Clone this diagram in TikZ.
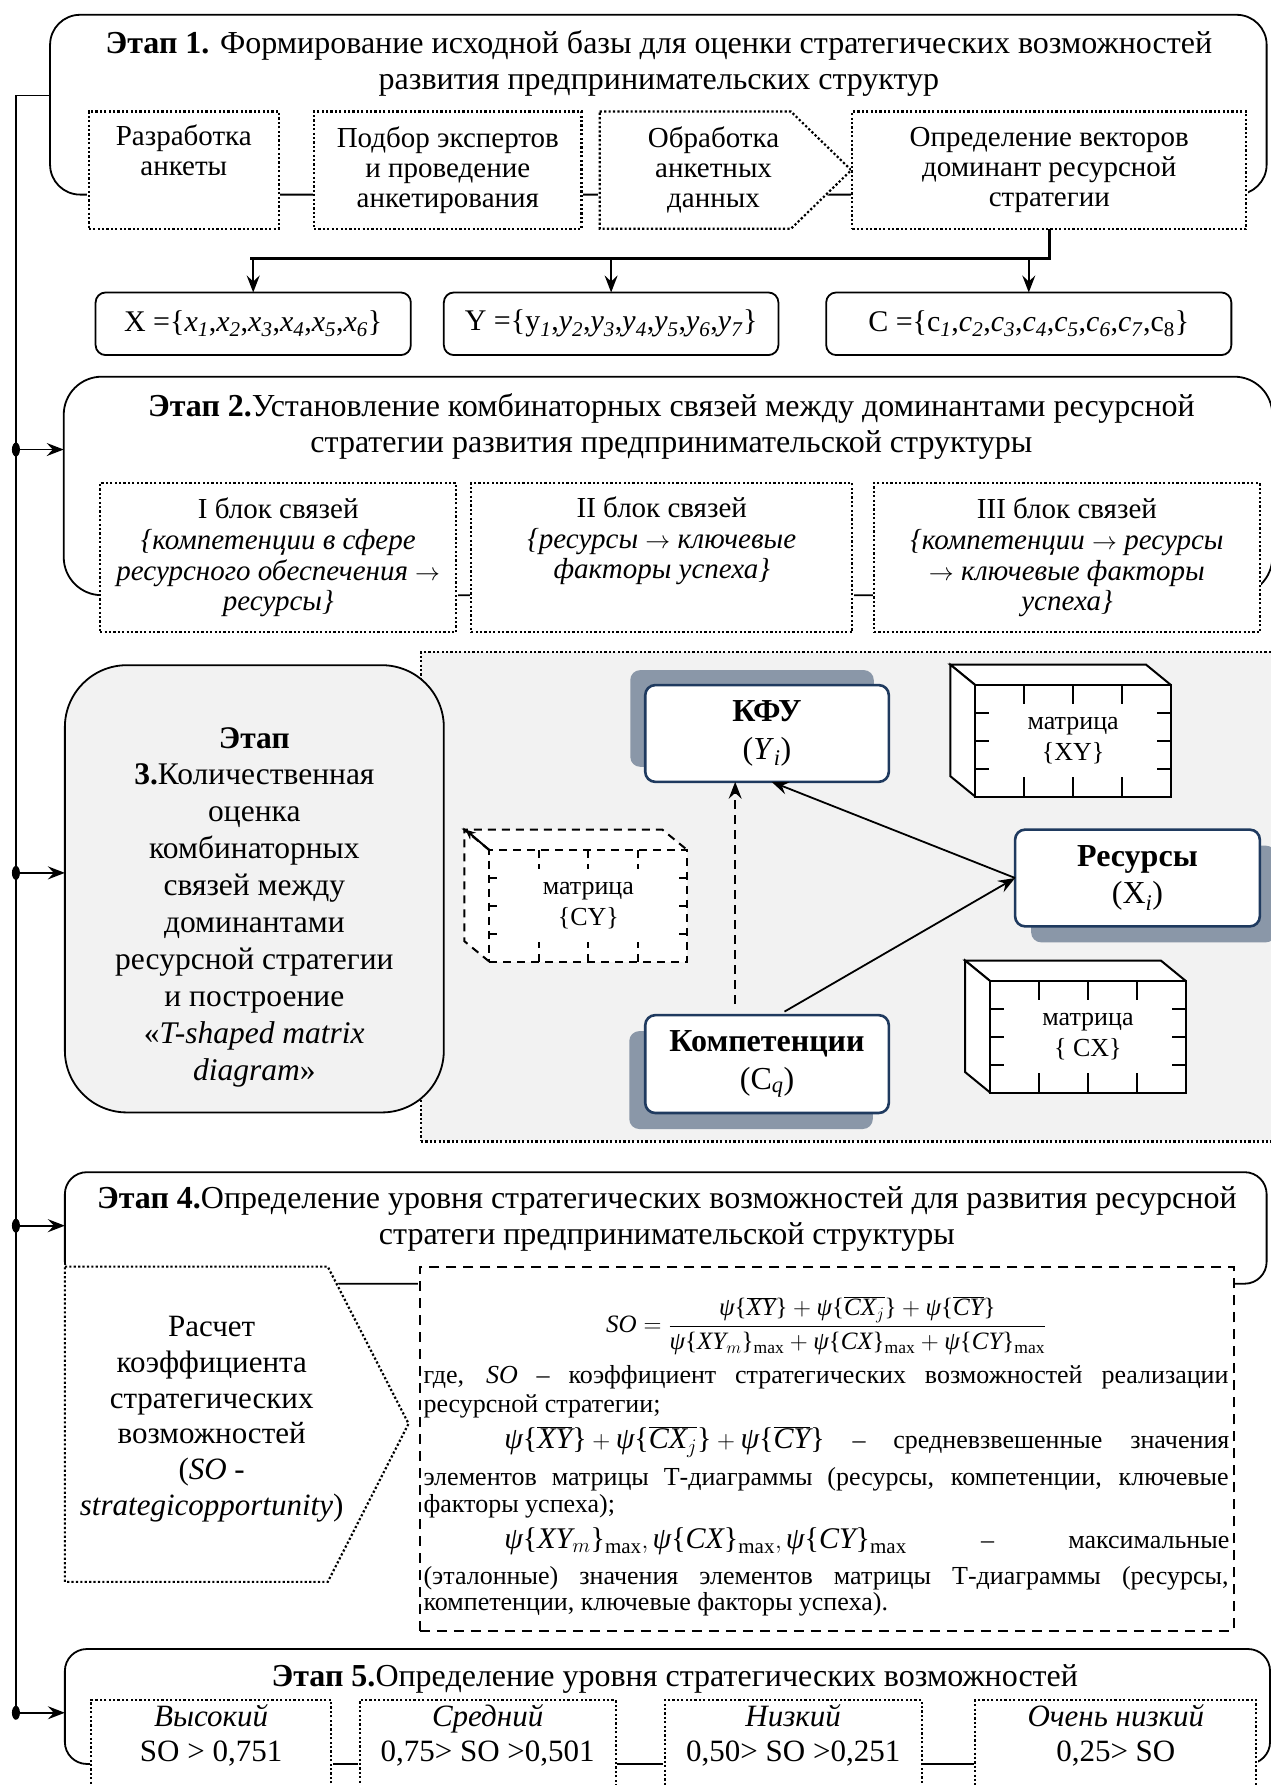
\documentclass[tikz,border=0pt]{standalone}
\usepackage{fontspec}
\setmainfont{Liberation Serif}
\usetikzlibrary{arrows.meta,calc,shadows}
\definecolor{navy}{HTML}{1F3A5F}
\definecolor{shadowc}{HTML}{8A97A8}
\definecolor{paleg}{HTML}{F2F2F2}
\newcommand\sub[1]{\textsubscript{\textit{#1}}}
\newcommand\ps{\mbox{\itshape ψ}}
\newcommand\br[1]{\mbox{\{}#1\mbox{\}}}
\newcommand\ib[1]{\mbox{\itshape #1}}
\newcommand\ra{$\rightarrow$}
\tikzset{
  ln/.style={line width=1.6pt},
  sz/.style 2 args={minimum width={#1*1.138pt}, minimum height={#2*1.138pt}, inner sep=0pt, outer sep=0pt},
  stagebox/.style={draw, line width=1.8pt, rounded corners=#1},
  stagebox/.default=30pt,
  dotbox/.style={draw, fill=white, line width=2.2pt, dash pattern=on 2.2pt off 2.2pt,
    preaction={draw=white, solid, line width=3pt}},
  dashbox/.style={draw, fill=white, line width=2pt, dash pattern=on 10pt off 7pt,
    preaction={draw=white, solid, line width=3pt}},
  setbox/.style={draw, fill=white, line width=1.8pt, rounded corners=10pt, align=center,
    font={\fontsize{30}{34}\selectfont}},
  ttl/.style={align=center, font={\fontsize{32}{36.4}\selectfont}, inner sep=0pt},
  bxt/.style={align=center, font={\fontsize{29}{30.2}\selectfont}},
  blk/.style={align=center, font={\fontsize{29}{30.7}\selectfont}},
  tnode/.style={draw=navy, line width=2.6pt, fill=white, rounded corners=10pt, align=center,
    font={\fontsize{32}{37.5}\selectfont}},
  arr/.style={line width=1.8pt, -{Stealth[length=17pt,width=13pt,inset=6pt]}},
  mtick/.style={line width=2pt},
  dtx/.style={inner sep=0pt, font={\fontsize{26}{27}\selectfont}},
  s5t/.style={align=center, font={\fontsize{31}{35.3}\selectfont}},
}
% 3D matrix block: name, centre x, centre y, width, height, line style, label
\newcommand\cube[7]{%
  \begin{scope}[line width=2pt, #6]
    \draw[fill=white] ({#2-#4/2},{#3-#5/2}) -- ++(-22,-18) -- ++(#4,0) -- ({#2+#4/2},{#3-#5/2});
    \draw[fill=white] ({#2-#4/2},{#3-#5/2}) -- ++(-22,-18) -- ++(0,#5) -- ({#2-#4/2},{#3+#5/2});
    \node[draw, fill=white, sz={#4}{#5}, align=center, font={\fontsize{26}{31}\selectfont}] (#1) at (#2,#3) {#7};
    \foreach \f in {0.25,0.5,0.75}{
      \draw[mtick] ($(#1.north west)!\f!(#1.north east)$) -- ++(0,17);
      \draw[mtick] ($(#1.south west)!\f!(#1.south east)$) -- ++(0,-17);
      \draw[mtick] ($(#1.north west)!\f!(#1.south west)$) -- ++(12,0);
      \draw[mtick] ($(#1.north east)!\f!(#1.south east)$) -- ++(-12,0);
    }
  \end{scope}}
\begin{document}
\begin{tikzpicture}[x=1.138pt,y=-1.138pt]
\useasboundingbox (0,0) rectangle (1116,1568.5);

% ---------- Stage 1 ----------
\node[stagebox=30pt, sz={1069}{158}] (s1) at (578.5,92) {};
\node[ttl] (t1) at (579,56) {\textbf{Этап 1.} Формирование исходной базы для оценки стратегических возможностей\\развития предпринимательских структур};
\node[dotbox, sz={167}{103}, bxt] (b1) at (161.5,149.5) {Разработка\\анкеты\\\strut};
\node[dotbox, sz={235}{103}, bxt] (b2) at (393.5,149.5) {Подбор экспертов\\и проведение\\анкетирования};
\draw[dotbox] (527,98) -- (695,98) -- (748,149.5) -- (695,201) -- (527,201) -- cycle;
\node[bxt] (b3) at (627,149.5) {Обработка\\анкетных\\данных};
\node[dotbox, sz={346}{103}, bxt] (b4) at (922,149.5) {Определение векторов\\доминант ресурсной\\стратегии};

\node[setbox, sz={277}{55}] (xs) at (222.5,284.5) {X =\{\textit{x}\sub{1},\textit{x}\sub{2},\textit{x}\sub{3},\textit{x}\sub{4},\textit{x}\sub{5},\textit{x}\sub{6}\}};
\node[setbox, sz={294}{55}] (ys) at (537,284.5) {Y =\{y\sub{1},\textit{y}\sub{2},\textit{y}\sub{3},\textit{y}\sub{4},\textit{y}\sub{5},\textit{y}\sub{6},\textit{y}\sub{7}\}};
\node[setbox, sz={356}{55}] (cs) at (904,284.5) {C =\{c\sub{1},\textit{c}\sub{2},\textit{c}\sub{3},\textit{c}\sub{4},\textit{c}\sub{5},\textit{c}\sub{6},\textit{c}\sub{7},c\textsubscript{8}\}};

\coordinate (busy) at (0,227);
\draw[line width=2.8pt] (b4.south) -- (b4.south |- busy) -- ($(xs.north |- busy)+(-3,0)$);
\foreach \t in {xs,ys,cs} \draw[arr] (\t.north |- busy) -- (\t.north);

% ---------- Stage 2 ----------
\node[stagebox=38pt, sz={1062}{192}] (s2) at (587,427) {};
\node[ttl] (t2) at (590,375) {\textbf{Этап 2.}Установление комбинаторных связей между доминантами ресурсной\\стратегии развития предпринимательской структуры};
\node[dotbox, sz={313}{131}, blk] (k1) at (244.5,490) {I блок связей\\\textit{\{компетенции в сфере}\\\textit{ресурсного обеспечения \ra}\\\textit{ресурсы\}}};
\node[dotbox, sz={335}{131}, blk] (k2) at (581.5,490) {II блок связей\\\textit{\{ресурсы \ra{} ключевые}\\\textit{факторы успеха\}}\\\strut};
\node[dotbox, sz={339}{131}, blk] (k3) at (937.5,490) {III блок связей\\\textit{\{компетенции \ra{} ресурсы}\\\textit{\ra{} ключевые факторы}\\\textit{успеха\}}};

% ---------- Stage 3 ----------
\node[draw, fill=paleg, line width=2.2pt, dash pattern=on 2.2pt off 2.2pt, sz={750}{430}] (g3) at (745,788) {};
\node[draw, fill=paleg, line width=1.8pt, rounded corners=62pt, sz={333}{393}] (s3) at (223.5,781) {};
\node[align=center, font={\fontsize{31.5}{36.9}\selectfont}, inner sep=0pt] (s3t) at (223.5,797)
  {\textbf{Этап}\\\textbf{3.}Количественная\\оценка\\комбинаторных\\связей между\\доминантами\\ресурсной стратегии\\и построение\\«\textit{T-shaped matrix}\\\textit{diagram}»};

\cube{xy}{943}{651}{172}{98}{solid}{матрица\\\{XY\}}
\cube{cx}{956}{911}{172}{98}{solid}{матрица\\\{ CX\}}
\cube{cy}{517}{796}{174}{98}{dash pattern=on 8pt off 6pt}{матрица\\\{CY\}}
\draw[line width=2pt, -{Stealth[length=10pt,width=9pt]}] (cy.north west) -- ++(-21,-18);

\node[tnode, sz={214}{85}, general shadow={fill=shadowc, shadow xshift=-15pt, shadow yshift=15pt}] (kfu) at (674,644.5) {\textbf{КФУ}\\(\textit{Y}\sub{i})};
\node[tnode, sz={215}{85}, general shadow={fill=shadowc, shadow xshift=16pt, shadow yshift=-16pt}] (res) at (999.5,771.5) {\textbf{Ресурсы}\\(X\sub{i})};
\node[tnode, sz={214}{86}, general shadow={fill=shadowc, shadow xshift=-16pt, shadow yshift=-16pt}] (komp) at (674,935) {\textbf{Компетенции}\\(C\sub{q})};

\coordinate (dx) at (646,0);
\draw[arr, dashed, dash pattern=on 9pt off 6pt, shorten <=11pt] (komp.north -| dx) -- (kfu.south -| dx);
\draw[arr] (res.west) -- ($(kfu.south)+(4,0)$);
\draw[arr, shorten <=7pt] ($(komp.north)+(10,0)$) -- (res.west);

% ---------- Stage 4 ----------
\node[stagebox=22pt, sz={1056}{98}] (s4) at (585,1079) {};
\node[ttl] (t4) at (586,1071) {\textbf{Этап 4.}Определение уровня стратегических возможностей для развития ресурсной\\стратеги предпринимательской структуры};
\draw[dotbox] (57,1113) -- (288,1113) -- (359,1251) -- (288,1390) -- (57,1390) -- cycle;
\node[align=center, font={\fontsize{31}{35.7}\selectfont}, inner sep=0pt] (p4) at (186,1247)
  {Расчет\\коэффициента\\стратегических\\возможностей\\(\textit{SO} -\\\textit{strategicopportunity})};
\node[dashbox, sz={715}{320}] (d4) at (726.5,1273) {};

\node[dtx, font={\fontsize{25}{28}\selectfont}] (frm) at (726,1165)
  {$\displaystyle \mbox{\itshape SO}=\frac{\ps\br{\overline{\ib{XY}}}+\ps\br{\overline{\ib{CX}_{j}}}+\ps\br{\overline{\ib{CY}}}}{\ps\br{\ib{XY}_{m}}_{\mathrm{max}}+\ps\br{\ib{CX}}_{\mathrm{max}}+\ps\br{\ib{CY}}_{\mathrm{max}}}$};
\node[dtx, anchor=base west] (l1) at (372,1216) {\makebox[805pt][s]{где, \textit{SO} – коэффициент стратегических возможностей реализации}};
\node[dtx, anchor=base west] (l2) at (372,1241) {ресурсной стратегии;};
\node[dtx, anchor=base west] (l3) at (443,1273) {\makebox[725pt][s]{{\fontsize{30}{30}\selectfont\mbox{$\ps\br{\overline{\ib{XY}}}+\ps\br{\overline{\ib{CX}_{j}}}+\ps\br{\overline{\ib{CY}}}$}} – средневзвешенные значения}};
\node[dtx, anchor=base west] (l4) at (372,1305) {\makebox[805pt][s]{элементов матрицы Т-диаграммы (ресурсы, компетенции, ключевые}};
\node[dtx, anchor=base west] (l5) at (372,1329) {факторы успеха);};
\node[dtx, anchor=base west] (l6) at (443,1361) {\makebox[725pt][s]{{\fontsize{30}{30}\selectfont\mbox{$\ps\br{\ib{XY}_{m}}_{\mathrm{max}},\ps\br{\ib{CX}}_{\mathrm{max}},\ps\br{\ib{CY}}_{\mathrm{max}}$}} – максимальные}};
\node[dtx, anchor=base west] (l7) at (372,1392) {\makebox[805pt][s]{(эталонные) значения элементов матрицы Т-диаграммы (ресурсы,}};
\node[dtx, anchor=base west] (l8) at (372,1415) {компетенции, ключевые факторы успеха).};

% ---------- Stage 5 ----------
\node[stagebox=22pt, sz={1059}{101}] (s5) at (586.5,1499.5) {};
\node[ttl] (t5) at (593,1475) {\textbf{Этап 5.}Определение уровня стратегических возможностей};
\node[dotbox, sz={211}{98}, s5t] (v1) at (185.5,1543) {\textit{Высокий}\\SO > 0,751\\\strut};
\node[dotbox, sz={225}{98}, s5t] (v2) at (428.5,1543) {\textit{Средний}\\0,75> SO >0,501\\\strut};
\node[dotbox, sz={226}{98}, s5t] (v3) at (697,1543) {\textit{Низкий}\\0,50> SO >0,251\\\strut};
\node[dotbox, sz={247}{98}, s5t] (v4) at (980.5,1543) {\textit{Очень низкий}\\0,25> SO\\\strut};

% ---------- spine ----------
\coordinate (j1) at (14,84);
\coordinate (j2) at (14,395);
\coordinate (j3) at (14,767);
\coordinate (j4) at (14,1077);
\coordinate (j5) at (14,1505);
\draw[ln] (j1 -| s1.west) -- (j1) -- (j5);
\foreach \j/\s in {j2/s2,j3/s3,j4/s4,j5/s5}{
  \fill (\j) ellipse [x radius=4pt, y radius=7pt];
  \draw[arr] (\j) -- (\j -| \s.west);
}
\end{tikzpicture}
\end{document}
